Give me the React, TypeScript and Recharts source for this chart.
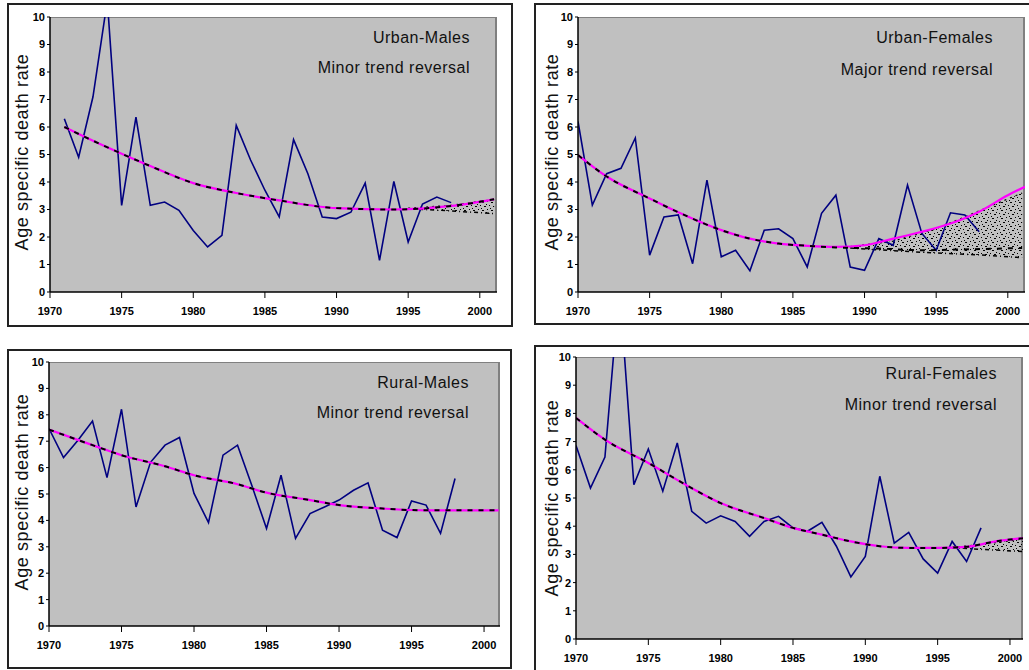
import React from "react";
import {
  ComposedChart,
  Line,
  Area,
  XAxis,
  YAxis,
} from "recharts";

// x axis ticks and y axis ticks shared by all four panels
const yearTicks = [1970, 1975, 1980, 1985, 1990, 1995, 2000];
const rateTicks = [0, 1, 2, 3, 4, 5, 6, 7, 8, 9, 10];

// Urban-Males (observed from 1971)
const urbanMalesStart = 1971;
const urbanMalesRate = [
  6.3, 4.9, 7.1, 10.6, 3.15, 6.36, 3.15, 3.27, 2.97, 2.24, 1.64, 2.06, 6.06, 4.8,
  3.7, 2.73, 5.54, 4.3, 2.73, 2.67, 2.9, 3.96, 1.15, 4.02, 1.82, 3.2, 3.45, 3.25,
];
const urbanMalesTrendYears = [1971, 1973, 1975, 1977, 1980, 1983, 1986, 1990, 1994, 1998, 2001];
const urbanMalesTrend = [6.0, 5.5, 5.03, 4.58, 3.96, 3.6, 3.33, 3.05, 3.0, 3.13, 3.37];
const urbanMalesFanYears = [1995, 1998, 2001];
const urbanMalesFanLow = [3.03, 2.95, 2.85];
const urbanMalesFanHigh = [3.05, 3.15, 3.37];

// Urban-Females
const urbanFemalesStart = 1970;
const urbanFemalesRate = [
  6.2, 3.16, 4.3, 4.5, 5.6, 1.34, 2.73, 2.8, 1.03, 4.07, 1.28, 1.52, 0.77, 2.25, 2.3,
  1.94, 0.91, 2.86, 3.52, 0.91, 0.79, 1.94, 1.7, 3.89, 2.13, 1.52, 2.88, 2.8, 2.19,
];
const urbanFemalesTrendYears = [1970, 1972, 1975, 1977, 1980, 1982, 1984, 1986, 1988, 1990, 1992, 1994, 1996, 1998, 2000, 2001.2];
const urbanFemalesTrend = [4.98, 4.2, 3.4, 2.9, 2.25, 1.94, 1.76, 1.68, 1.64, 1.7, 1.94, 2.19, 2.49, 2.92, 3.52, 3.83];
const urbanFemalesDashYears = [1970, 1972, 1975, 1977, 1980, 1982, 1984, 1986, 1988, 1991, 1994, 1997, 2001];
const urbanFemalesDash = [4.98, 4.2, 3.4, 2.9, 2.25, 1.94, 1.76, 1.68, 1.62, 1.58, 1.52, 1.55, 1.6];
const urbanFemalesFanYears = [1989, 1992, 1995, 1998, 2001];
const urbanFemalesFanLow = [1.6, 1.5, 1.42, 1.35, 1.25];
const urbanFemalesFanHigh = [1.65, 1.85, 2.3, 2.95, 3.6];

// Rural-Males
const ruralMalesStart = 1970;
const ruralMalesRate = [
  7.48, 6.38, 7.04, 7.76, 5.62, 8.21, 4.51, 6.2, 6.85, 7.14, 5.02, 3.92, 6.47, 6.85, 5.3,
  3.69, 5.71, 3.32, 4.26, 4.51, 4.77, 5.14, 5.42, 3.63, 3.35, 4.74, 4.58, 3.51, 5.59,
];
const ruralMalesTrendYears = [1970, 1973, 1975, 1978, 1980, 1983, 1985, 1988, 1990, 1993, 1996, 2001];
const ruralMalesTrend = [7.44, 6.85, 6.47, 6.05, 5.71, 5.37, 5.05, 4.77, 4.58, 4.45, 4.38, 4.38];

// Rural-Females
const ruralFemalesStart = 1970;
const ruralFemalesRate = [
  6.86, 5.35, 6.45, 12.5, 5.47, 6.74, 5.24, 6.95, 4.53, 4.11, 4.37, 4.17, 3.64, 4.17, 4.35,
  3.94, 3.82, 4.14, 3.29, 2.2, 2.93, 5.77, 3.4, 3.78, 2.84, 2.34, 3.46, 2.75, 3.94,
];
const ruralFemalesTrendYears = [1970, 1972, 1975, 1978, 1980, 1983, 1985, 1987, 1989, 1991, 1993, 1995, 1997, 1999, 2001];
const ruralFemalesTrend = [7.84, 7.07, 6.24, 5.35, 4.82, 4.29, 3.94, 3.7, 3.46, 3.29, 3.23, 3.23, 3.27, 3.46, 3.58];
const ruralFemalesFanYears = [1996, 1998, 2001];
const ruralFemalesFanLow = [3.24, 3.18, 3.1];
const ruralFemalesFanHigh = [3.25, 3.35, 3.55];

type Row = { year: number; [key: string]: any };

function buildRows(
  start: number,
  rate: number[],
  trendYears: number[],
  trend: number[],
  dashYears: number[],
  dash: number[],
  fanYears: number[],
  fanLow: number[],
  fanHigh: number[]
): Row[] {
  const map = new Map<number, Row>();
  const get = (y: number) => {
    if (!map.has(y)) map.set(y, { year: y });
    return map.get(y)!;
  };
  rate.forEach((v, i) => (get(start + i).rate = v));
  trendYears.forEach((y, i) => (get(y).trend = trend[i]));
  dashYears.forEach((y, i) => (get(y).dash = dash[i]));
  fanYears.forEach((y, i) => {
    const r = get(y);
    r.fan = [fanLow[i], fanHigh[i]];
    r.fanLow = fanLow[i];
    r.fanHigh = fanHigh[i];
  });
  return Array.from(map.values()).sort((a, b) => a.year - b.year);
}

const tickFont = { fontSize: 11, fontWeight: 700, fill: "#000", fontFamily: "Liberation Sans, Arial, sans-serif" };

interface PanelProps {
  id: string;
  rows: Row[];
  box: { left: number; top: number; width: number; height: number };
  plot: { left: number; top: number; right: number; bottom: number };
  xMax: number;
  label: { x: number; y: number };
  title: string;
  subtitle: string;
  titlePos: { right: number; y1: number; y2: number };
}

const Panel: React.FC<PanelProps> = ({ id, rows, box, plot, xMax, label, title, subtitle, titlePos }) => {
  const yw = 40;
  const mt = 8;
  const mr = 6;
  const xh = 30;
  const pw = plot.right - plot.left;
  const ph = plot.bottom - plot.top;
  const textStyle: React.CSSProperties = {
    position: "absolute",
    right: 1029 - titlePos.right,
    fontFamily: "Liberation Sans, Arial, sans-serif",
    fontSize: 16,
    letterSpacing: 0.5,
    lineHeight: "18px",
    whiteSpace: "nowrap",
    color: "#111",
  };
  return (
    <>
      <div
        style={{
          position: "absolute",
          left: box.left,
          top: box.top,
          width: box.width,
          height: box.height,
          border: "2px solid #222",
          boxSizing: "border-box",
          background: "#fff",
        }}
      />
      <div
        style={{
          position: "absolute",
          left: plot.left,
          top: plot.top,
          width: pw,
          height: ph,
          background: "#C0C0C0",
          borderTop: "1px solid #808080",
          borderRight: "2px solid #808080",
          boxSizing: "border-box",
        }}
      />
      <div style={{ position: "absolute", left: plot.left - yw, top: plot.top - mt }}>
        <ComposedChart
          width={yw + pw + mr}
          height={mt + ph + xh}
          data={rows}
          margin={{ top: mt, right: mr, bottom: 0, left: 0 }}
        >
          <defs>
            <pattern id={`dots-${id}`} width="9" height="8" patternUnits="userSpaceOnUse">
              <rect x="0" y="0" width="1" height="1" fill="#000" />
              <rect x="4" y="1" width="2" height="1" fill="#000" />
              <rect x="2" y="4" width="1" height="1" fill="#000" />
              <rect x="6" y="5" width="2" height="1" fill="#000" />
              <rect x="8" y="3" width="1" height="1" fill="#000" />
              <rect x="3" y="7" width="1" height="1" fill="#000" />
            </pattern>
          </defs>
          <XAxis
            type="number"
            dataKey="year"
            domain={[1970, xMax]}
            ticks={yearTicks}
            interval={0}
            allowDataOverflow
            height={xh}
            tickSize={6}
            tickMargin={9}
            axisLine={{ stroke: "#000", strokeWidth: 1.5 }}
            tickLine={{ stroke: "#000" }}
            tick={tickFont}
          />
          <YAxis
            type="number"
            domain={[0, 10]}
            ticks={rateTicks}
            interval={0}
            allowDataOverflow
            width={yw}
            tickSize={3}
            tickMargin={2}
            axisLine={{ stroke: "#000", strokeWidth: 1.5 }}
            tickLine={{ stroke: "#000" }}
            tick={tickFont}
          />
          <Area
            dataKey="fan"
            type="linear"
            stroke="none"
            fill={`url(#dots-${id})`}
            fillOpacity={1}
            connectNulls
            isAnimationActive={false}
          />
          <Line dataKey="fanLow" type="linear" stroke="#000" strokeWidth={1.5} strokeDasharray="4 3 1 3" dot={false} connectNulls isAnimationActive={false} />
          <Line dataKey="fanHigh" type="linear" stroke="#000" strokeWidth={1.2} strokeDasharray="2 4" dot={false} connectNulls isAnimationActive={false} />
          <Line dataKey="rate" type="linear" stroke="#000080" strokeWidth={1.6} dot={false} connectNulls isAnimationActive={false} />
          <Line dataKey="trend" type="monotone" stroke="#FF00FF" strokeWidth={2.2} dot={false} connectNulls isAnimationActive={false} />
          <Line dataKey="dash" type="monotone" stroke="#000" strokeWidth={2} strokeDasharray="5 6" dot={false} connectNulls isAnimationActive={false} />
        </ComposedChart>
      </div>
      <div
        style={{
          position: "absolute",
          left: label.x,
          top: label.y,
          transform: "translate(-50%, -50%) rotate(-90deg)",
          fontFamily: "Liberation Sans, Arial, sans-serif",
          fontSize: 18,
          letterSpacing: 0.6,
          whiteSpace: "nowrap",
          color: "#111",
        }}
      >
        Age specific death rate
      </div>
      <div style={{ ...textStyle, top: titlePos.y1 - 9 }}>{title}</div>
      <div style={{ ...textStyle, top: titlePos.y2 - 9 }}>{subtitle}</div>
    </>
  );
};

export default function App() {
  const urbanMalesRows = buildRows(
    urbanMalesStart, urbanMalesRate, urbanMalesTrendYears, urbanMalesTrend,
    urbanMalesTrendYears, urbanMalesTrend, urbanMalesFanYears, urbanMalesFanLow, urbanMalesFanHigh
  );
  const urbanFemalesRows = buildRows(
    urbanFemalesStart, urbanFemalesRate, urbanFemalesTrendYears, urbanFemalesTrend,
    urbanFemalesDashYears, urbanFemalesDash, urbanFemalesFanYears, urbanFemalesFanLow, urbanFemalesFanHigh
  );
  const ruralMalesRows = buildRows(
    ruralMalesStart, ruralMalesRate, ruralMalesTrendYears, ruralMalesTrend,
    ruralMalesTrendYears, ruralMalesTrend, [], [], []
  );
  const ruralFemalesRows = buildRows(
    ruralFemalesStart, ruralFemalesRate, ruralFemalesTrendYears, ruralFemalesTrend,
    ruralFemalesTrendYears, ruralFemalesTrend, ruralFemalesFanYears, ruralFemalesFanLow, ruralFemalesFanHigh
  );

  return (
    <div
      style={{
        position: "absolute",
        left: 0,
        top: 0,
        width: 1029,
        height: 670,
        overflow: "hidden",
        background: "#fff",
      }}
    >
      <Panel
        id="um"
        rows={urbanMalesRows}
        box={{ left: 7, top: 3, width: 506, height: 324 }}
        plot={{ left: 50, top: 17, right: 497, bottom: 292 }}
        xMax={2001.2}
        label={{ x: 22, y: 152 }}
        title="Urban-Males"
        subtitle="Minor trend reversal"
        titlePos={{ right: 470, y1: 38, y2: 68 }}
      />
      <Panel
        id="uf"
        rows={urbanFemalesRows}
        box={{ left: 534, top: 3, width: 500, height: 322 }}
        plot={{ left: 578, top: 17, right: 1025, bottom: 292 }}
        xMax={2001.2}
        label={{ x: 552, y: 152 }}
        title="Urban-Females"
        subtitle="Major trend reversal"
        titlePos={{ right: 993, y1: 38, y2: 70 }}
      />
      <Panel
        id="rm"
        rows={ruralMalesRows}
        box={{ left: 7, top: 349, width: 505, height: 320 }}
        plot={{ left: 49, top: 362, right: 500, bottom: 626 }}
        xMax={2001.1}
        label={{ x: 22, y: 492 }}
        title="Rural-Males"
        subtitle="Minor trend reversal"
        titlePos={{ right: 469, y1: 383, y2: 413 }}
      />
      <Panel
        id="rf"
        rows={ruralFemalesRows}
        box={{ left: 534, top: 345, width: 500, height: 330 }}
        plot={{ left: 576, top: 357, right: 1023, bottom: 639 }}
        xMax={2000.9}
        label={{ x: 552, y: 498 }}
        title="Rural-Females"
        subtitle="Minor trend reversal"
        titlePos={{ right: 997, y1: 374, y2: 405 }}
      />
    </div>
  );
}
